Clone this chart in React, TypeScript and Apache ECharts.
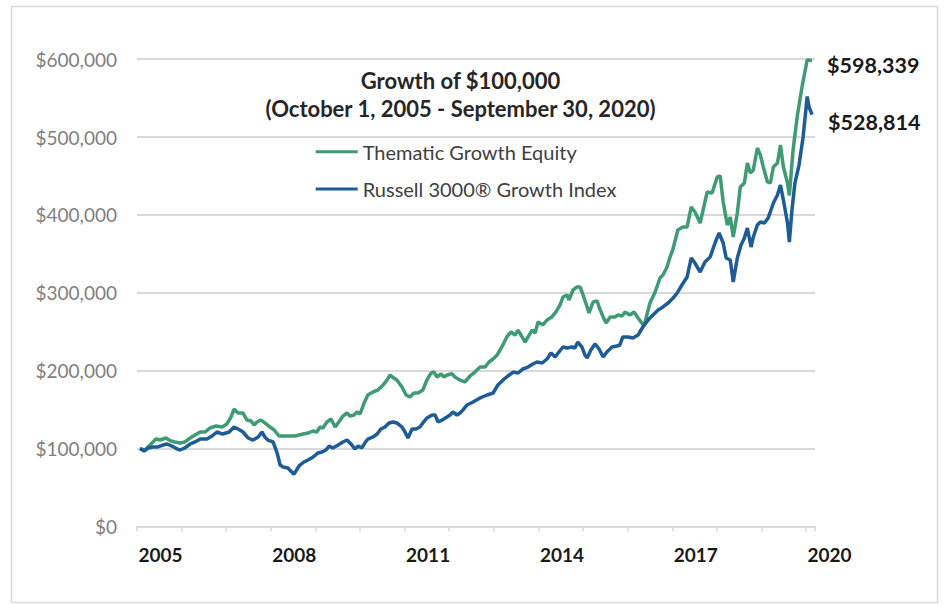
import React, { useEffect, useRef } from "react";
import * as echarts from "echarts";

// x = months from the first axis tick, y = value in $ thousands
const thematicGrowth: [number, number][] = [
  [0.8, 100], [2.2, 98.2], [3.5, 104.6], [5.1, 112.3], [6.2, 111.0], [7.8, 113.6], [9.1, 109.8],
  [10.2, 108.5], [11.6, 107.2], [12.9, 108.5], [14.3, 113.6], [15.6, 117.5], [17.0, 121.3],
  [18.3, 121.3], [19.6, 126.4], [21.3, 129.0], [22.9, 127.7], [24.2, 131.6], [25.3, 140.6],
  [26.1, 150.8], [27.2, 145.7], [28.5, 145.7], [29.6, 136.7], [30.7, 135.4], [31.5, 130.3],
  [32.3, 134.2], [33.4, 136.7], [34.4, 132.9], [35.8, 127.7], [36.9, 123.9], [38.2, 116.2],
  [40.4, 116.2], [42.5, 116.2], [44.7, 118.7], [46.0, 120.0], [47.3, 122.6], [48.4, 121.3],
  [49.2, 127.7], [50.0, 126.4], [51.1, 134.2], [52.2, 138.0], [53.3, 127.7], [54.3, 134.2],
  [55.4, 141.8], [56.5, 145.7], [57.3, 141.8], [58.4, 143.1], [59.2, 147.0], [60.0, 144.4],
  [61.1, 158.5], [62.1, 168.8], [63.5, 172.7], [64.8, 175.2], [66.2, 181.6], [67.3, 188.1],
  [68.1, 194.5], [69.1, 190.6], [69.9, 188.1], [71.3, 179.1], [72.4, 168.8], [73.4, 166.3],
  [74.5, 171.4], [75.6, 171.4], [76.9, 175.2], [78.0, 188.1], [79.1, 197.0], [79.9, 198.3],
  [80.7, 191.9], [81.8, 195.8], [82.6, 191.9], [83.4, 194.5], [84.7, 196.0], [85.6, 191.5],
  [86.9, 188.0], [88.2, 185.5], [89.6, 193.2], [90.9, 198.3], [92.3, 204.7], [93.6, 204.7],
  [94.7, 211.2], [95.8, 215.0], [96.9, 220.2], [97.7, 226.6], [98.7, 235.6], [99.5, 243.3],
  [100.6, 249.7], [101.7, 245.8], [102.5, 252.2], [103.6, 243.3], [104.4, 236.8], [105.2, 243.3],
  [106.3, 252.2], [107.1, 248.4], [107.9, 262.5], [109.2, 258.7], [110.3, 265.1], [111.6, 269.0],
  [112.7, 275.4], [113.8, 284.3], [114.6, 294.6], [115.7, 297.2], [116.2, 290.8], [117.3, 303.6],
  [118.4, 307.5], [119.2, 307.5], [120.0, 297.2], [121.1, 281.8], [121.6, 274.1], [122.7, 288.2],
  [123.8, 289.5], [124.3, 281.8], [125.4, 269.0], [126.2, 261.2], [127.3, 269.0], [128.6, 269.0],
  [129.4, 271.5], [130.5, 270.2], [131.3, 275.4], [132.6, 271.5], [133.7, 275.4], [134.8, 267.7],
  [136.4, 257.4], [138.0, 286.9], [139.4, 301.0], [140.7, 319.0], [141.5, 322.8], [142.6, 333.1],
  [143.4, 345.9], [144.2, 356.2], [145.5, 380.6], [146.9, 384.5], [148.0, 384.5], [149.1, 410.2],
  [150.1, 403.8], [151.5, 389.6], [152.6, 412.7], [153.4, 429.4], [154.7, 428.1], [156.1, 448.7],
  [156.9, 449.9], [157.7, 416.6], [158.8, 387.0], [159.6, 397.3], [160.4, 371.6], [161.5, 402.5],
  [162.3, 435.8], [163.4, 441.0], [164.2, 466.6], [165.0, 453.8], [165.8, 457.7], [166.9, 485.9],
  [167.7, 476.9], [168.5, 461.5], [169.6, 442.3], [170.4, 441.0], [171.2, 461.5], [172.3, 466.6],
  [173.1, 489.8], [173.9, 461.5], [175.0, 441.0], [175.5, 425.0], [176.5, 483.3], [177.6, 525.7],
  [178.9, 564.2], [180.3, 599.0], [181.6, 598.339],
];

const russellGrowth: [number, number][] = [
  [0.8, 100], [1.9, 96.9], [3.0, 100.8], [4.3, 102.1], [5.6, 102.1], [7.0, 104.6], [8.1, 105.9],
  [9.4, 103.3], [10.8, 99.5], [11.6, 98.2], [12.9, 100.8], [14.3, 105.9], [15.6, 108.5],
  [17.0, 112.3], [18.8, 112.3], [20.2, 116.2], [21.5, 121.3], [23.1, 118.7], [24.8, 121.3],
  [26.1, 127.7], [27.2, 125.2], [28.5, 121.3], [29.9, 113.6], [31.2, 111.0], [32.6, 114.9],
  [33.6, 121.3], [34.4, 114.9], [35.2, 111.0], [36.6, 108.5], [37.7, 94.4], [38.5, 79.0],
  [39.3, 76.4], [40.6, 75.1], [42.2, 67.0], [43.6, 77.7], [44.9, 82.8], [46.0, 85.4],
  [47.4, 89.2], [48.7, 94.4], [49.8, 95.6], [50.8, 98.2], [51.7, 103.3], [52.7, 100.8],
  [54.1, 104.6], [55.4, 108.5], [56.5, 111.0], [57.8, 104.6], [58.6, 99.5], [59.5, 103.3],
  [60.5, 100.8], [61.3, 107.2], [62.1, 112.3], [63.5, 114.9], [64.6, 118.7], [65.6, 125.2],
  [66.7, 127.7], [67.8, 132.9], [68.9, 134.2], [69.9, 132.9], [71.3, 127.7], [72.1, 121.3],
  [72.9, 113.6], [74.0, 125.2], [75.1, 125.2], [76.1, 127.7], [76.9, 132.9], [78.0, 139.3],
  [79.4, 143.1], [80.2, 143.1], [81.0, 134.2], [82.1, 136.7], [83.4, 140.6], [84.2, 143.1],
  [85.0, 147.0], [86.1, 143.1], [86.9, 145.7], [87.7, 149.6], [88.8, 156.0], [90.4, 159.8],
  [92.3, 165.0], [94.2, 168.8], [95.8, 171.4], [97.1, 181.6], [98.5, 188.1], [99.8, 193.2],
  [101.2, 198.3], [102.5, 197.0], [103.8, 202.2], [105.2, 204.7], [106.5, 208.6], [107.6, 211.2],
  [109.0, 209.9], [110.3, 215.0], [111.4, 222.7], [112.5, 217.6], [113.3, 222.7], [114.6, 230.4],
  [115.7, 229.1], [117.0, 230.4], [117.8, 229.1], [118.6, 236.8], [119.7, 230.4], [120.5, 220.2],
  [121.1, 216.3], [122.1, 226.6], [123.2, 234.3], [124.3, 227.9], [125.4, 217.6], [126.4, 224.0],
  [127.8, 230.4], [129.1, 231.7], [129.9, 233.0], [130.7, 243.3], [132.1, 243.3], [133.4, 242.0],
  [134.8, 245.8], [136.1, 256.1], [137.5, 265.1], [138.8, 271.5], [140.2, 277.9], [141.5, 281.8],
  [142.9, 286.9], [144.2, 293.3], [145.3, 299.7], [146.6, 310.0], [148.0, 320.3], [149.1, 344.7],
  [150.1, 338.2], [151.5, 326.7], [152.8, 339.5], [154.2, 346.0], [155.5, 363.9], [156.6, 376.8],
  [157.7, 363.9], [158.5, 344.7], [159.6, 342.1], [160.4, 313.9], [161.5, 344.7], [162.5, 361.4],
  [163.4, 370.4], [164.2, 383.2], [165.2, 358.8], [165.8, 371.6], [166.9, 387.0], [167.7, 390.9],
  [168.8, 389.6], [169.8, 396.0], [171.2, 415.3], [172.3, 425.6], [173.1, 438.4], [173.9, 419.1],
  [175.0, 389.6], [175.5, 365.2], [176.2, 406.3], [177.0, 440.9], [178.1, 464.0], [179.2, 500.0],
  [180.3, 552.0], [180.8, 538.5], [181.6, 528.814],
];

const seriesNames = ["Thematic Growth Equity", "Russell 3000® Growth Index"];
const firstYear = 2005;
const yearLabelStep = 3;
const titleLines = ["Growth of $100,000", "(October 1, 2005 - September 30, 2020)"];

const GREEN = "#3f9b74";
const BLUE = "#1d5c97";
const FONT = "Lato";

const fmtDollar = (v: number) => "$" + Math.round(v).toLocaleString("en-US");

export default function App() {
  const ref = useRef<HTMLDivElement>(null);

  useEffect(() => {
    if (!ref.current) return;
    const chart = echarts.init(ref.current, undefined, { renderer: "svg" });
    const toDollars = (arr: [number, number][]) => arr.map(([m, v]) => [m, v * 1000]);

    chart.setOption({
      animation: false,
      backgroundColor: "#ffffff",
      grid: { left: 137, right: 129, top: 59.1, bottom: 78.5, containLabel: false },
      graphic: [
        {
          type: "rect",
          silent: true,
          z: -10,
          shape: { x: 11.5, y: 6.5, width: 926, height: 596 },
          style: { fill: "none", stroke: "#d9d9d9", lineWidth: 1.5 },
        },
        {
          type: "text",
          x: 460.5,
          y: 80,
          style: {
            text: titleLines[0],
            fill: "#262626",
            font: `bold 22px ${FONT}`,
            align: "center",
            verticalAlign: "middle",
          },
        },
        {
          type: "text",
          x: 460.5,
          y: 108.3,
          style: {
            text: titleLines[1],
            fill: "#262626",
            font: `bold 22px ${FONT}`,
            align: "center",
            verticalAlign: "middle",
          },
        },
      ],
      legend: {
        orient: "vertical",
        left: 315.7,
        top: 140.7,
        padding: 0,
        itemWidth: 42,
        itemHeight: 3,
        itemGap: 15.3,
        icon: "rect",
        selectedMode: false,
        data: seriesNames,
        textStyle: { fontFamily: FONT, fontSize: 20, lineHeight: 22, color: "#404040" },
      },
      xAxis: {
        type: "value",
        min: 0,
        max: 182.4,
        interval: 12,
        axisLine: { show: true, lineStyle: { color: "#d9d9d9", width: 2 } },
        axisTick: { show: true, length: 5, lineStyle: { color: "#d9d9d9", width: 1.5 } },
        splitLine: { show: false },
        axisLabel: {
          margin: 18,
          padding: [0, 0, 0, 47],
          fontFamily: FONT,
          fontWeight: "bold",
          fontSize: 19,
          color: "#1a1a1a",
          formatter: (v: number) =>
            Math.abs(v % (12 * yearLabelStep)) < 1e-6 ? String(firstYear + v / 12) : "",
        },
      },
      yAxis: {
        type: "value",
        min: 0,
        max: 600000,
        interval: 100000,
        axisLine: { show: false },
        axisTick: { show: false },
        splitLine: { show: true, lineStyle: { color: "#d9d9d9", width: 2 } },
        axisLabel: {
          margin: 20,
          fontFamily: FONT,
          fontSize: 19,
          color: "#7f7f7f",
          formatter: (v: number) => fmtDollar(v),
        },
      },
      series: [
        {
          name: seriesNames[0],
          type: "line",
          data: toDollars(thematicGrowth),
          showSymbol: false,
          symbol: "none",
          color: GREEN,
          lineStyle: { color: GREEN, width: 3.5 },
          z: 2,
          endLabel: {
            show: true,
            distance: 15,
            offset: [0, 5],
            fontFamily: FONT,
            fontWeight: "bold",
            fontSize: 21.5,
            color: "#1a1a1a",
            formatter: (p: any) => fmtDollar(p.value[1]),
          },
        },
        {
          name: seriesNames[1],
          type: "line",
          data: toDollars(russellGrowth),
          showSymbol: false,
          symbol: "none",
          color: BLUE,
          lineStyle: { color: BLUE, width: 3.5 },
          z: 3,
          endLabel: {
            show: true,
            distance: 16,
            offset: [0, 7],
            fontFamily: FONT,
            fontWeight: "bold",
            fontSize: 21.5,
            color: "#1a1a1a",
            formatter: (p: any) => fmtDollar(p.value[1]),
          },
        },
      ],
    });

    return () => chart.dispose();
  }, []);

  return (
    <div
      ref={ref}
      style={{ position: "fixed", left: 0, top: 0, width: 944, height: 605, background: "#fff" }}
    />
  );
}
